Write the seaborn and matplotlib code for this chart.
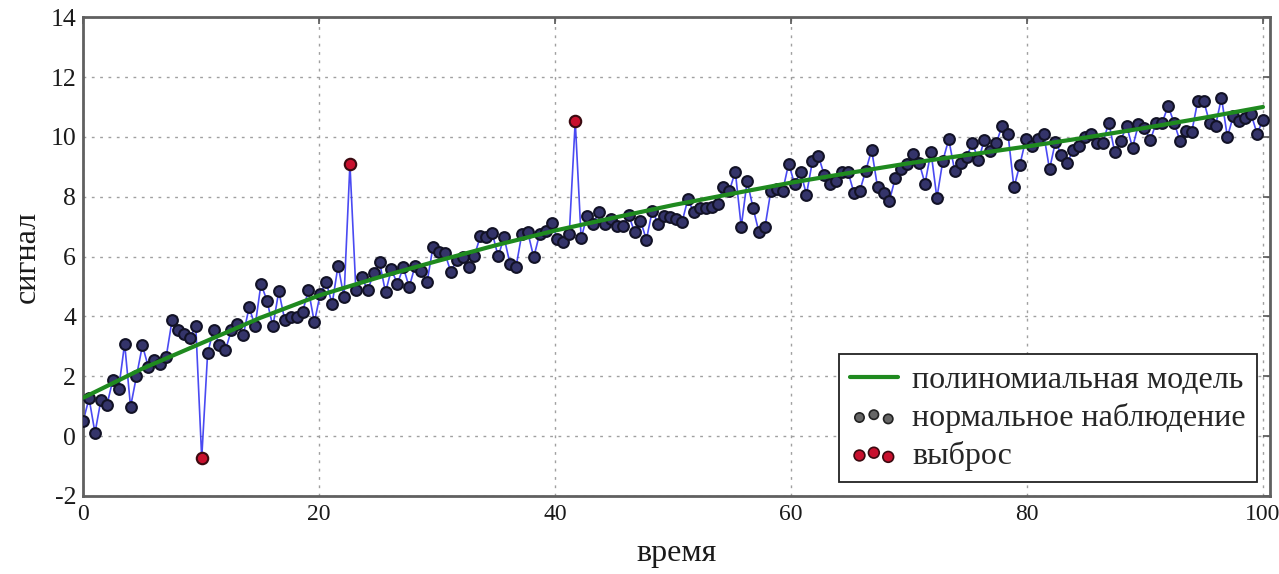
import numpy as np
import pandas as pd
import matplotlib
matplotlib.use("Agg")
import matplotlib.pyplot as plt
import seaborn as sns

# ---- data ----
time = np.linspace(0, 100, 200)
signal = [
    0.5, 1.26, 0.11, 1.2, 1.03, 1.87, 1.59, 3.09, 0.98, 2.0,
    3.03, 2.31, 2.53, 2.42, 2.64, 3.87, 3.53, 3.42, 3.29, 3.67,
    -0.74, 2.78, 3.56, 3.03, 2.88, 3.53, 3.76, 3.37, 4.31, 3.67,
    5.09, 4.53, 3.67, 4.84, 3.89, 3.98, 3.98, 4.14, 4.88, 3.8,
    4.76, 5.14, 4.42, 5.7, 4.64, 9.09, 4.89, 5.31, 4.87, 5.45,
    5.81, 4.81, 5.57, 5.09, 5.64, 4.98, 5.7, 5.53, 5.14, 6.31,
    6.14, 6.12, 5.5, 5.87, 5.98, 5.64, 6.03, 6.68, 6.64, 6.79,
    6.01, 6.64, 5.76, 5.64, 6.76, 6.81, 5.98, 6.76, 6.87, 7.12,
    6.59, 6.5, 6.76, 10.53, 6.61, 7.37, 7.09, 7.48, 7.09, 7.26,
    7.03, 7.01, 7.39, 6.83, 7.2, 6.57, 7.53, 7.09, 7.37, 7.33,
    7.26, 7.14, 7.92, 7.48, 7.64, 7.64, 7.67, 7.76, 8.31, 8.2,
    8.84, 7.0, 8.53, 7.62, 6.81, 6.98, 8.2, 8.26, 8.2, 9.11,
    8.42, 8.84, 8.07, 9.18, 9.37, 8.73, 8.42, 8.53, 8.84, 8.84,
    8.14, 8.2, 8.87, 9.56, 8.31, 8.14, 7.87, 8.64, 8.92, 9.09,
    9.42, 9.14, 8.44, 9.51, 7.96, 9.2, 9.92, 8.87, 9.14, 9.33,
    9.8, 9.22, 9.89, 9.53, 9.78, 10.37, 10.09, 8.31, 9.07, 9.92,
    9.7, 9.92, 10.11, 8.92, 9.84, 9.4, 9.14, 9.56, 9.7, 10.0,
    10.11, 9.78, 9.81, 10.48, 9.48, 9.87, 10.37, 9.64, 10.42, 10.31,
    9.89, 10.48, 10.48, 11.03, 10.48, 9.87, 10.2, 10.18, 11.2, 11.2,
    10.48, 10.37, 11.31, 10.0, 10.7, 10.53, 10.64, 10.76, 10.11, 10.56,
]
outlier_idx = [20, 45, 83]

model_time = [0, 5, 10, 15, 20, 25, 30, 35, 40, 45, 50,
              55, 60, 65, 70, 75, 80, 85, 90, 95, 100]
model_value = [1.28, 2.25, 3.1, 3.95, 4.7, 5.3, 5.85, 6.38, 6.87, 7.3, 7.72,
               8.1, 8.47, 8.8, 9.12, 9.4, 9.68, 9.98, 10.3, 10.64, 11.0]

x_ticks = [0, 20, 40, 60, 80, 100]
y_ticks = [-2, 0, 2, 4, 6, 8, 10, 12, 14]

label_model = "полиномиальная модель"
label_normal = "нормальное наблюдение"
label_outlier = "выброс"
x_label = "время"
y_label = "сигнал"

# ---- frames ----
df = pd.DataFrame({"t": time, "s": signal})
is_out = np.zeros(len(df), dtype=bool)
is_out[outlier_idx] = True
df_norm = df[~is_out]
df_out = df[is_out]
df_model = pd.DataFrame({"t": model_time, "s": model_value})

sns.set_style("white")
plt.rcParams["font.family"] = ["Liberation Serif", "DejaVu Serif"]
plt.rcParams["axes.unicode_minus"] = False

fig = plt.figure(figsize=(12.79, 5.74), dpi=100)
ax = fig.add_axes([0.065, 0.136, 0.928, 0.834])

sns.lineplot(data=df, x="t", y="s", ax=ax, color="#2a2af0", lw=1.2,
             alpha=0.85, zorder=2, sort=False, estimator=None)
sns.scatterplot(data=df_norm, x="t", y="s", ax=ax, s=60, color="#34346a",
                edgecolor="#121226", linewidth=1.5, zorder=3)
sns.scatterplot(data=df_out, x="t", y="s", ax=ax, s=68, color="#c8102e",
                edgecolor="#3a0a10", linewidth=1.5, zorder=3)
sns.lineplot(data=df_model, x="t", y="s", ax=ax, color="#1f8a1f", lw=3,
             zorder=4, estimator=None)

ax.set_xlim(0, 100.6)
ax.set_ylim(-2, 14)
ax.set_xticks(x_ticks)
ax.set_yticks(y_ticks)
ax.tick_params(axis="both", direction="in", length=5,
               width=1.2, top=True, right=True, colors="#555555",
               labelcolor="#1a1a1a")
ax.tick_params(axis="y", pad=5, labelsize=18.5)
ax.tick_params(axis="x", pad=6, labelsize=17)
ax.grid(True, ls=(0, (2, 4)), color="#a0a0a0", lw=1.0)
for sp in ax.spines.values():
    sp.set_color("#606060")
    sp.set_linewidth(2)
ax.set_xlabel(x_label, fontsize=23, color="#1a1a1a", labelpad=10)
ax.set_ylabel(y_label, fontsize=23, color="#1a1a1a", labelpad=6)

# legend handles
h_model = plt.Line2D([], [], color="#1f8a1f", lw=3)
h_norm = ax.scatter([], [], s=45, color="#666666", edgecolor="#222222",
                    linewidth=1.2)
h_out = ax.scatter([], [], s=60, color="#c8102e", edgecolor="#3a0a10",
                   linewidth=1.2)
leg = ax.legend([h_model, h_norm, h_out], [label_model, label_normal, label_outlier],
                loc="lower right", bbox_to_anchor=(0.989, 0.029),
                borderaxespad=0, fontsize=23, scatterpoints=3,
                fancybox=False, framealpha=1, edgecolor="#222222",
                handlelength=1.5, handletextpad=0.45, labelspacing=0.25,
                borderpad=0.35)
leg.get_frame().set_linewidth(1.3)

fig.savefig("out.png", dpi=100)
